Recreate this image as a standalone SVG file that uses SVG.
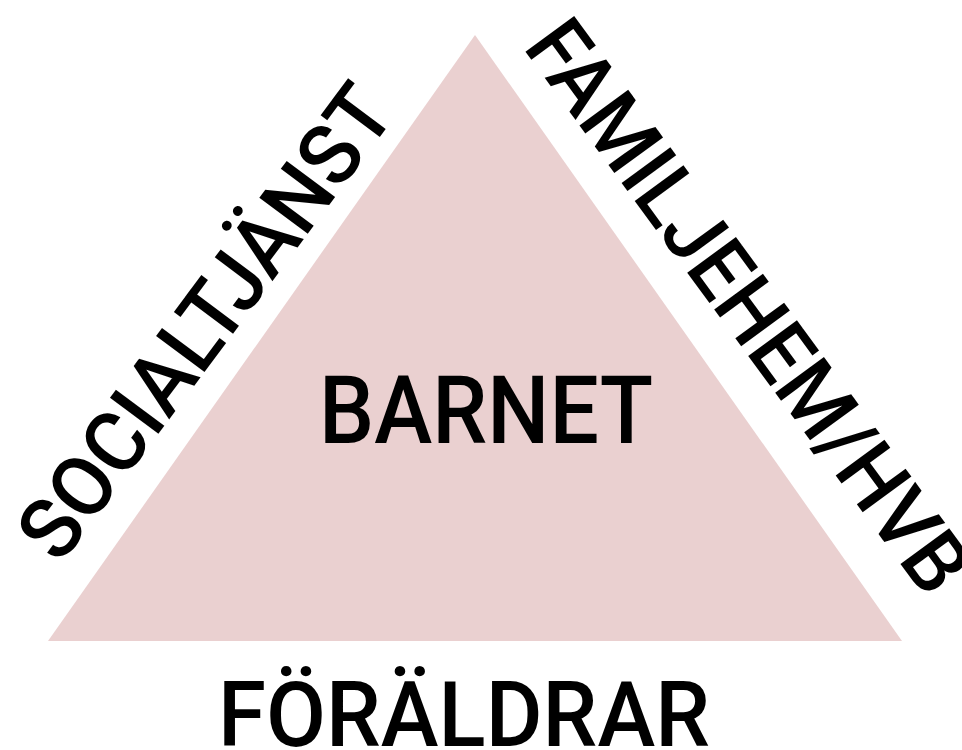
<svg xmlns="http://www.w3.org/2000/svg" width="962" height="750" viewBox="0 0 962 750">
<style>
text{font-family:Roboto,"Liberation Sans",Arial,sans-serif;font-weight:500;fill:#000;}
.side{font-size:85px;}
</style>
<rect width="962" height="750" fill="#fff"/>
<g id="triangle">
<polygon points="475,35 48,641 902,641" fill="#ead0d0"/>
</g>
<g id="barnet"><text x="319" y="443" font-size="95" textLength="334" lengthAdjust="spacingAndGlyphs">BARNET</text></g>
<g id="foraldrar"><text x="218" y="746" font-size="91" textLength="492" lengthAdjust="spacingAndGlyphs">FÖRÄLDRAR</text></g>
<g id="socialtjanst"><text class="side" transform="translate(60,566) rotate(-53.3)" textLength="565" lengthAdjust="spacingAndGlyphs">SOCIALTJÄNST</text></g>
<g id="familjehem"><text class="side" transform="translate(522,47) rotate(53.8)" textLength="686" lengthAdjust="spacingAndGlyphs">FAMILJEHEM/HVB</text></g>
<g id="connectors"></g>
</svg>
